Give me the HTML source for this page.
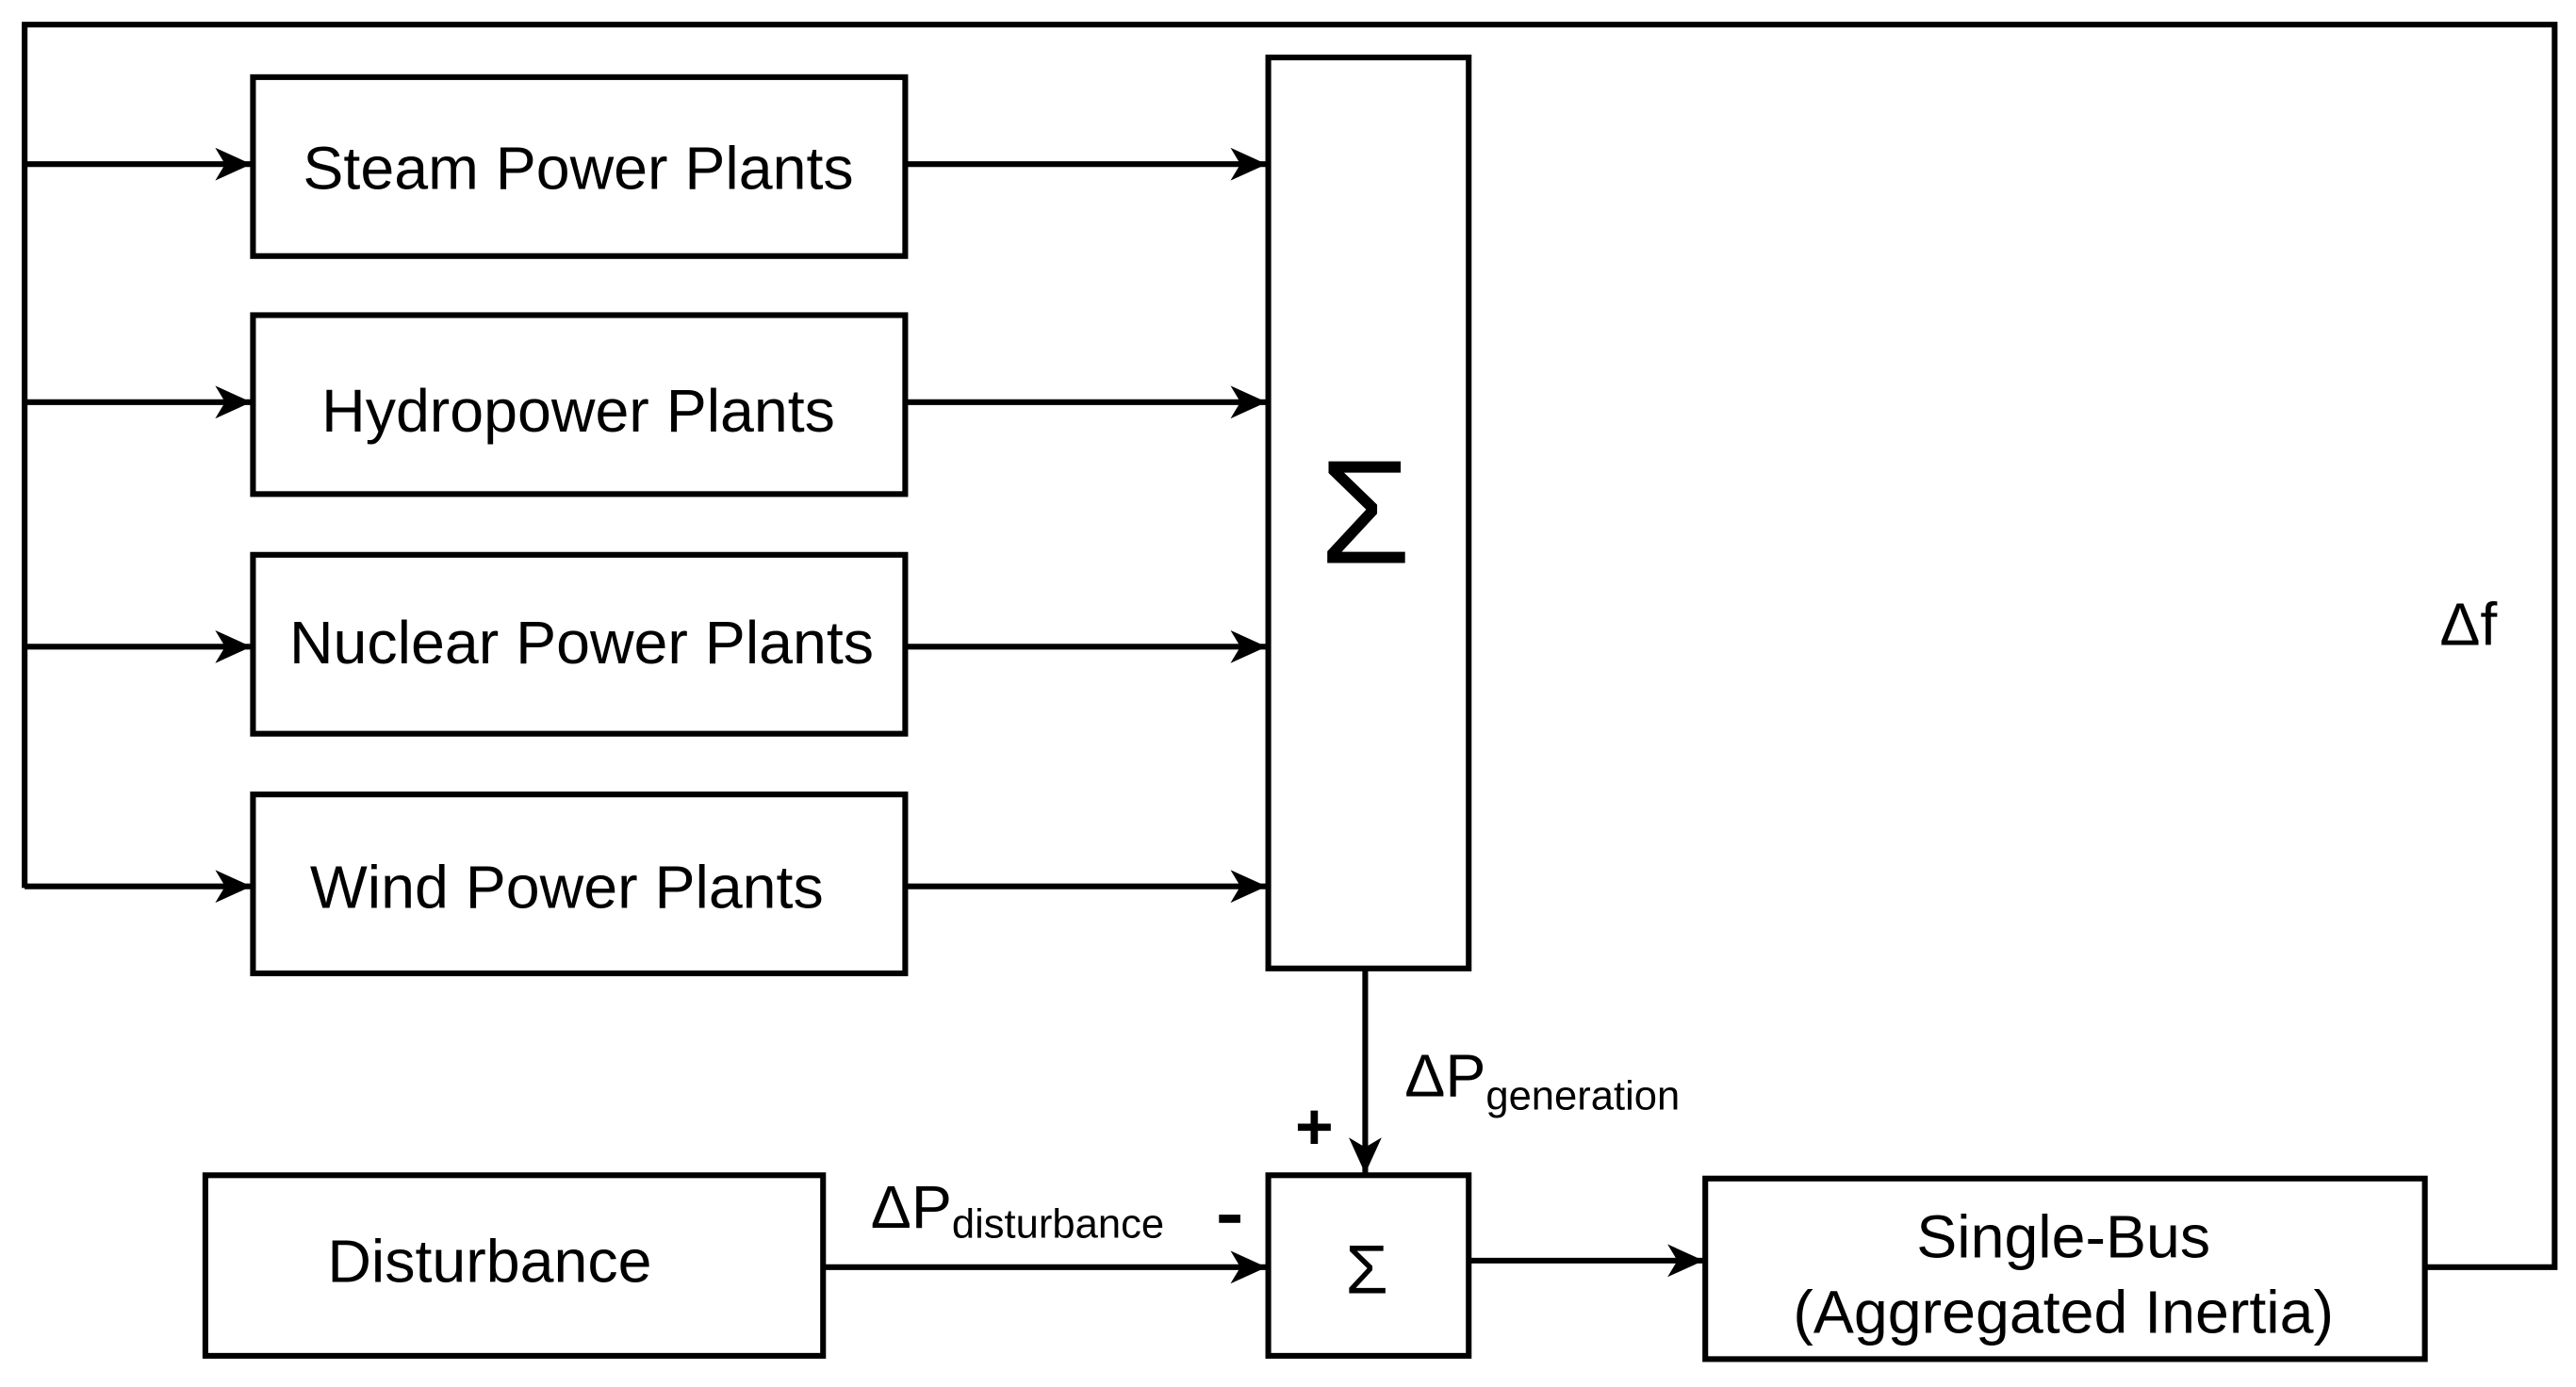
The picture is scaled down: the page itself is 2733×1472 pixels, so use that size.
<!DOCTYPE html>
<html><head><meta charset="utf-8"><style>
html,body{margin:0;padding:0;background:#fff;}
svg{display:block;}
text{font-family:"Liberation Sans",Arial,sans-serif;fill:#000;}
</style></head><body>
<svg width="2733" height="1472" viewBox="0 0 1568 845" preserveAspectRatio="none" xmlns="http://www.w3.org/2000/svg">
<defs>
<marker id="a" viewBox="0 0 22 20" refX="22" refY="10" markerWidth="22" markerHeight="20" markerUnits="userSpaceOnUse" orient="auto">
<path d="M0,0 L22,10 L0,20 L6,10 Z" fill="#000"/>
</marker>
</defs>
<g stroke="#000" stroke-width="3.5" fill="none">
<polyline points="1476,772 1555,772 1555,15 15,15 15,541"/>
<line x1="15" y1="100" x2="153" y2="100" marker-end="url(#a)"/>
<line x1="15" y1="245" x2="153" y2="245" marker-end="url(#a)"/>
<line x1="15" y1="394" x2="153" y2="394" marker-end="url(#a)"/>
<line x1="15" y1="540" x2="153" y2="540" marker-end="url(#a)"/>
<rect x="154" y="47" width="397" height="109"/>
<rect x="154" y="192" width="397" height="109"/>
<rect x="154" y="338" width="397" height="109"/>
<rect x="154" y="484" width="397" height="109"/>
<rect x="772" y="35" width="122" height="555"/>
<rect x="772" y="716" width="122" height="110"/>
<rect x="125" y="716" width="376" height="110"/>
<rect x="1038" y="718" width="438" height="110"/>
<line x1="551" y1="100" x2="771" y2="100" marker-end="url(#a)"/>
<line x1="551" y1="245" x2="771" y2="245" marker-end="url(#a)"/>
<line x1="551" y1="394" x2="771" y2="394" marker-end="url(#a)"/>
<line x1="551" y1="540" x2="771" y2="540" marker-end="url(#a)"/>
<line x1="831" y1="590" x2="831" y2="715" marker-end="url(#a)"/>
<line x1="501" y1="772" x2="771" y2="772" marker-end="url(#a)"/>
<line x1="894" y1="768" x2="1037" y2="768" marker-end="url(#a)"/>
</g>
<g font-size="37" text-anchor="middle">
<text x="352" y="115">Steam Power Plants</text>
<text x="352" y="263">Hydropower Plants</text>
<text x="354" y="404">Nuclear Power Plants</text>
<text x="345" y="553">Wind Power Plants</text>
<text x="298" y="781">Disturbance</text>
<text x="1256" y="766">Single-Bus</text>
<text x="1256" y="812">(Aggregated Inertia)</text>
</g>
<text x="831" y="343" font-size="90" text-anchor="middle">Σ</text>
<text x="832" y="788" font-size="42" text-anchor="middle">Σ</text>
<text x="855" y="668" font-size="37">ΔP<tspan font-size="25" dy="8">generation</tspan></text>
<text x="530" y="748" font-size="37">ΔP<tspan font-size="25" dy="6">disturbance</tspan></text>
<text x="800" y="700" font-size="40" font-weight="bold" text-anchor="middle">+</text>
<rect x="742" y="740" width="13" height="5" fill="#000"/>
<text x="1485" y="393" font-size="37">Δf</text>
</svg>
</body></html>
